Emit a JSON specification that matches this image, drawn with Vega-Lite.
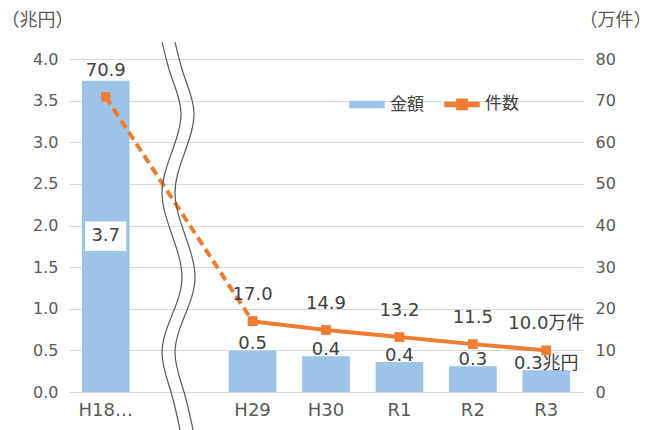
{
  "$schema": "https://vega.github.io/schema/vega-lite/v6.json",
  "width": 514,
  "height": 333,
  "autosize": "none",
  "padding": {"left": 69, "top": 59, "right": 69, "bottom": 38},
  "background": "white",
  "config": {
    "view": {"stroke": null},
    "font": "DejaVu Sans, Noto Sans CJK JP",
    "text": {"font": "DejaVu Sans, Noto Sans CJK JP"}
  },
  "datasets": {
    "main": [
      {"cat": "H18…", "amount": 3.74, "count": 70.9, "amtText": "3.7", "cntText": "70.9"},
      {"cat": "H29", "amount": 0.50, "count": 17.0, "amtText": "0.5", "cntText": "17.0"},
      {"cat": "H30", "amount": 0.43, "count": 14.9, "amtText": "0.4", "cntText": "14.9"},
      {"cat": "R1", "amount": 0.36, "count": 13.2, "amtText": "0.4", "cntText": "13.2"},
      {"cat": "R2", "amount": 0.31, "count": 11.5, "amtText": "0.3", "cntText": "11.5"},
      {"cat": "R3", "amount": 0.26, "count": 10.0, "amtText": "0.3兆円", "cntText": "10.0万件"}
    ],
    "wave": [
      {"order": 0, "y": 4.204, "xl": 1.267, "xr": 1.444},
      {"order": 1, "y": 3.784, "xl": 1.396, "xr": 1.573},
      {"order": 2, "y": 3.351, "xl": 1.525, "xr": 1.702},
      {"order": 3, "y": 2.871, "xl": 1.396, "xr": 1.573},
      {"order": 4, "y": 2.390, "xl": 1.267, "xr": 1.444},
      {"order": 5, "y": 1.886, "xl": 1.403, "xr": 1.580},
      {"order": 6, "y": 1.381, "xl": 1.539, "xr": 1.716},
      {"order": 7, "y": 0.925, "xl": 1.403, "xr": 1.580},
      {"order": 8, "y": 0.468, "xl": 1.267, "xr": 1.444},
      {"order": 9, "y": 0.000, "xl": 1.389, "xr": 1.566},
      {"order": 10, "y": -0.456, "xl": 1.512, "xr": 1.689}
    ]
  },
  "resolve": {"scale": {"x": "independent", "y": "independent"}},
  "layer": [
    {
      "data": {"name": "main"},
      "encoding": {
        "x": {
          "field": "cat", "type": "nominal", "title": null,
          "scale": {"domain": ["H18…", " ", "H29", "H30", "R1", "R2", "R3"], "paddingInner": 0.35, "paddingOuter": 0.175},
          "axis": {"domain": false, "ticks": false, "labelAngle": 0, "labelPadding": 9, "labelFontSize": 18, "labelColor": "#595959", "grid": false}
        }
      },
      "layer": [
        {
          "mark": {"type": "bar"},
          "encoding": {
            "y": {
              "field": "amount", "type": "quantitative",
              "scale": {"domain": [0, 4], "nice": false},
              "axis": {
                "orient": "left", "values": [0, 0.5, 1, 1.5, 2, 2.5, 3, 3.5, 4], "format": ".1f",
                "grid": true, "gridColor": "#D9D9D9", "gridWidth": 1.2, "domain": false, "ticks": false,
                "labelPadding": 11, "labelFontSize": 16, "labelColor": "#595959",
                "title": "（兆円）", "titleAngle": 0, "titleX": -68, "titleY": -39, "titleAlign": "left",
                "titleBaseline": "middle", "titleFontSize": 18, "titleFontWeight": "normal", "titleColor": "#595959",
                "titleFont": "Noto Sans CJK JP"
              }
            },
            "color": {
              "datum": "金額", "type": "nominal",
              "scale": {"domain": ["金額", "件数"], "range": ["#9DC3E6", "#ED7D31"]},
              "legend": {
                "orient": "none", "legendX": 280, "legendY": 27, "direction": "horizontal", "title": null,
                "labelFontSize": 17, "labelColor": "#404040", "labelFont": "Noto Sans CJK JP",
                "symbolSize": 1150, "columnPadding": 18, "labelOffset": 5,
                "encode": {
                  "symbols": {
                    "update": {
                      "shape": {"signal": "datum.value === '件数' ? 'M-1,-0.12H1V0.12H-1Z M-0.3,-0.3H0.3V0.3H-0.3Z' : 'M-1,-0.18H1V0.18H-1Z'"},
                      "fill": {"signal": "datum.value === '件数' ? '#ED7D31' : '#9DC3E6'"},
                      "stroke": {"value": "transparent"},
                      "opacity": {"value": 1},
                      "fillOpacity": {"value": 1}
                    }
                  }
                }
              }
            }
          }
        },
        {
          "transform": [{"filter": "datum.cat !== 'H18…'"}],
          "mark": {"type": "text", "baseline": "bottom", "dy": 3, "fontSize": 18, "color": "#404040"},
          "encoding": {
            "y": {"field": "amount", "type": "quantitative"},
            "text": {"field": "amtText"}
          }
        },
        {
          "transform": [{"filter": "datum.cat === 'H18…'"}, {"calculate": "datum.amount / 2", "as": "mid"}],
          "mark": {"type": "point", "shape": "M-1,-0.72H1V0.72H-1Z", "size": 1681, "filled": true, "color": "white", "opacity": 1},
          "encoding": {"y": {"field": "mid", "type": "quantitative"}}
        },
        {
          "transform": [{"filter": "datum.cat === 'H18…'"}, {"calculate": "datum.amount / 2", "as": "mid"}],
          "mark": {"type": "text", "baseline": "middle", "fontSize": 18, "color": "#404040"},
          "encoding": {
            "y": {"field": "mid", "type": "quantitative"},
            "text": {"field": "amtText"}
          }
        }
      ]
    },
    {
      "data": {"name": "main"},
      "encoding": {
        "x": {
          "field": "cat", "type": "nominal",
          "scale": {"domain": ["H18…", " ", "H29", "H30", "R1", "R2", "R3"], "paddingInner": 0.35, "paddingOuter": 0.175},
          "axis": null
        },
        "y": {
          "field": "count", "type": "quantitative",
          "scale": {"domain": [0, 80], "nice": false},
          "axis": {
            "orient": "right", "values": [0, 10, 20, 30, 40, 50, 60, 70, 80],
            "grid": false, "domain": false, "ticks": false,
            "labelPadding": 12, "labelFontSize": 16, "labelColor": "#595959",
            "title": "（万件）", "titleAngle": 0, "titleX": -4, "titleY": -39, "titleAlign": "left",
            "titleBaseline": "middle", "titleFontSize": 18, "titleFontWeight": "normal", "titleColor": "#595959",
            "titleFont": "Noto Sans CJK JP"
          }
        }
      },
      "layer": [
        {
          "transform": [{"filter": "datum.cat === 'H18…' || datum.cat === 'H29'"}],
          "mark": {"type": "line", "strokeWidth": 4, "strokeDash": [9, 5], "point": {"shape": "square", "size": 85, "filled": true}},
          "encoding": {"color": {"datum": "件数", "type": "nominal"}}
        },
        {
          "transform": [{"filter": "datum.cat !== 'H18…'"}],
          "mark": {"type": "line", "strokeWidth": 4, "point": {"shape": "square", "size": 95, "filled": true}},
          "encoding": {"color": {"datum": "件数", "type": "nominal"}}
        },
        {
          "mark": {"type": "text", "baseline": "middle", "dy": -26, "fontSize": 18, "color": "#404040"},
          "encoding": {"text": {"field": "cntText"}}
        }
      ]
    },
    {
      "data": {"name": "wave"},
      "encoding": {
        "y": {"field": "y", "type": "quantitative", "scale": {"domain": [0, 4], "nice": false, "zero": false}, "axis": null}
      },
      "layer": [
        {
          "mark": {"type": "area", "orient": "horizontal", "color": "white", "interpolate": "natural", "opacity": 1},
          "encoding": {
            "x": {"field": "xl", "type": "quantitative", "scale": {"domain": [0, 7], "nice": false, "zero": false}, "axis": null},
            "x2": {"field": "xr"},
            "order": {"field": "order"}
          }
        },
        {
          "mark": {"type": "line", "color": "#595959", "strokeWidth": 1.2, "interpolate": "natural"},
          "encoding": {
            "x": {"field": "xl", "type": "quantitative"},
            "order": {"field": "order"}
          }
        },
        {
          "mark": {"type": "line", "color": "#595959", "strokeWidth": 1.2, "interpolate": "natural"},
          "encoding": {
            "x": {"field": "xr", "type": "quantitative"},
            "order": {"field": "order"}
          }
        }
      ]
    }
  ]
}
